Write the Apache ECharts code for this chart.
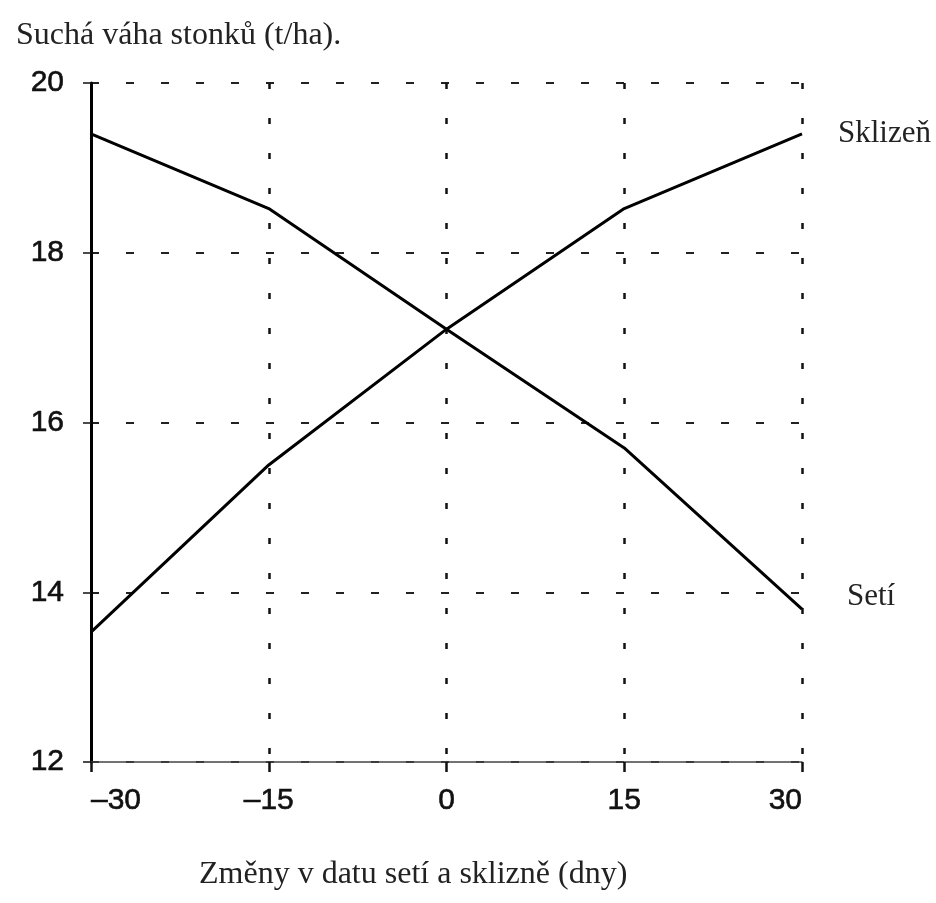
<!DOCTYPE html>
<html>
<head>
<meta charset="utf-8">
<title>Suchá váha stonků</title>
<script src="https://cdn.jsdelivr.net/npm/echarts@6/dist/echarts.min.js"></script>
<style>
	html, body {
		margin: 0;
		padding: 0;
		background: #fff;
	}

	#box {
		width: 936px;
		height: 903px;
	}
</style>
</head>
<body>
<div id="box"></div>
<script>
	// posun data setí / sklizně (dny)
	var days = [-30, -15, 0, 15, 30];
	// suchá váha stonků (t/ha)
	var sklizen = [13.53, 15.5, 17.1, 18.52, 19.4];
	var seti = [19.4, 18.52, 17.1, 15.7, 13.8];

	var titleText = 'Suchá váha stonků (t/ha).';
	var xName = 'Změny v datu setí a sklizně (dny)';

	function pairs(vals) {
		var out = [];
		for (var i = 0; i < days.length; i++) {
			out.push([days[i], vals[i]]);
		}
		return out;
	}

	var serif = '"Liberation Serif", "Times New Roman", serif';
	var sans = '"Liberation Sans", Arial, sans-serif';

	var myChart = echarts.init(document.getElementById('box'));

	var option = {
		backgroundColor: '#fff',
		animation: false,
		title: [{
			text: titleText,
			left: 11,
			top: 15,
			textStyle: {
				fontFamily: serif,
				fontSize: 32,
				fontWeight: 'normal',
				color: '#222'
			}
		}, {
			text: xName,
			left: 194,
			top: 854,
			textStyle: {
				fontFamily: serif,
				fontSize: 32,
				fontWeight: 'normal',
				color: '#222'
			}
		}],
		grid: {
			left: 91,
			right: 134,
			top: 83,
			bottom: 141
		},
		xAxis: {
			type: 'value',
			min: -30,
			max: 30,
			interval: 15,
			axisLine: {
				show: true,
				onZero: false,
				lineStyle: { color: '#444', width: 1.5 }
			},
			axisTick: {
				show: true,
				length: 10,
				lineStyle: { color: '#111', width: 2.5 }
			},
			axisLabel: {
				margin: 24,
				fontFamily: sans,
				fontSize: 30,
				color: '#111',
				textBorderColor: '#111',
				textBorderWidth: 0.6,
				alignMinLabel: 'left',
				alignMaxLabel: 'right',
				formatter: function (v) {
					return v < 0 ? '\u2013' + Math.abs(v) : String(v);
				}
			},
			splitLine: {
				show: true,
				lineStyle: {
					color: '#111',
					width: 2.5,
					type: [6, 29]
				}
			}
		},
		yAxis: {
			type: 'value',
			min: 12,
			max: 20,
			interval: 2,
			axisLine: {
				show: true,
				onZero: false,
				lineStyle: { color: '#000', width: 3 }
			},
			axisTick: {
				show: true,
				length: 8,
				lineStyle: { color: '#111', width: 1.5 }
			},
			axisLabel: {
				margin: 27,
				fontFamily: sans,
				fontSize: 30,
				color: '#111',
				textBorderColor: '#111',
				textBorderWidth: 0.6
			},
			splitLine: {
				show: true,
				lineStyle: {
					color: '#222',
					width: 2,
					type: [8, 27]
				}
			}
		},
		series: [{
			name: 'Sklizeň',
			type: 'line',
			data: pairs(sklizen),
			symbol: 'none',
			lineStyle: { color: '#000', width: 3 },
			endLabel: {
				show: true,
				formatter: '{a}',
				distance: 36,
				fontFamily: serif,
				fontSize: 31,
				color: '#222'
			}
		}, {
			name: 'Setí',
			type: 'line',
			data: pairs(seti),
			symbol: 'none',
			lineStyle: { color: '#000', width: 3 },
			endLabel: {
				show: true,
				formatter: '{a}',
				distance: 45,
				offset: [0, -12],
				fontFamily: serif,
				fontSize: 31,
				color: '#222'
			}
		}]
	};

	myChart.setOption(option);
</script>
</body>
</html>
